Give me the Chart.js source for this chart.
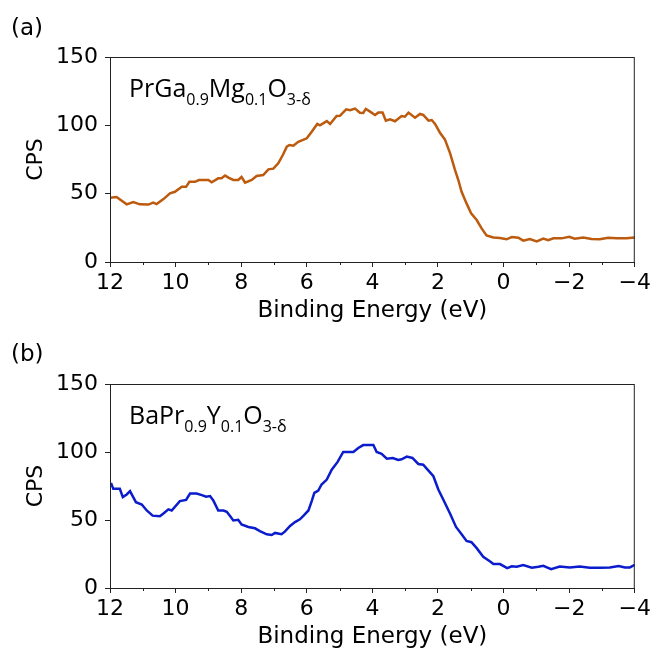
<!DOCTYPE html>
<html>
<head>
<meta charset="utf-8">
<script src="https://cdn.jsdelivr.net/npm/chart.js@4/dist/chart.umd.min.js"></script>
<style>
  html, body { margin: 0; padding: 0; background: #fff; }
  .fig { position: relative; width: 654px; height: 652px; }
  .fig canvas { position: absolute; left: 0; }
  #panelA { top: 0; }
  #panelB { top: 326px; }
</style>
</head>
<body>
<div class="fig">
  <canvas id="panelA" width="654" height="326"></canvas>
  <canvas id="panelB" width="654" height="326"></canvas>
</div>
<script>
// x ticks (binding energy, eV) and y ticks (CPS)
const xTicks = [12, 10, 8, 6, 4, 2, 0, -2, -4];
const xMinorTicks = [11, 9, 7, 5, 3, 1, -1, -3];
const yTicks = [0, 50, 100, 150];

// (a) PrGa0.9Mg0.1O3-δ
const energyA = [12.0, 11.8, 11.49, 11.29, 11.09, 10.83, 10.68, 10.58, 10.37, 10.17, 10.02, 9.81, 9.68, 9.58, 9.41, 9.29, 9.0, 8.9, 8.7, 8.6, 8.49, 8.39, 8.24, 8.09, 7.99, 7.88, 7.68, 7.53, 7.33, 7.17, 7.02, 6.87, 6.73, 6.61, 6.53, 6.41, 6.26, 6.0, 5.85, 5.68, 5.6, 5.39, 5.29, 5.09, 4.99, 4.8, 4.68, 4.53, 4.38, 4.28, 4.2, 4.07, 3.92, 3.82, 3.69, 3.59, 3.46, 3.31, 3.11, 3.01, 2.9, 2.7, 2.55, 2.45, 2.29, 2.19, 2.09, 1.94, 1.79, 1.63, 1.48, 1.38, 1.28, 1.13, 0.99, 0.82, 0.67, 0.52, 0.31, 0.11, -0.09, -0.25, -0.45, -0.6, -0.8, -1.01, -1.21, -1.36, -1.52, -1.77, -2.0, -2.17, -2.43, -2.68, -2.93, -3.19, -3.44, -3.75, -4.0];
const cpsA = [47, 47.5, 42.2, 43.9, 42.2, 42, 43.4, 42.4, 46, 50.2, 51.4, 55.1, 55, 58.7, 58.7, 60, 60, 58.3, 61.2, 61.2, 63.2, 61.7, 60, 60, 62.2, 58, 60, 62.9, 63.6, 67.8, 68.3, 72.2, 78.3, 84.4, 85.6, 85.1, 88, 90.5, 95.3, 101, 100, 103.1, 101, 106.8, 107, 111.7, 111, 112.2, 109.2, 109, 112, 110, 107.6, 109.3, 109.3, 103.4, 104.4, 103, 106.8, 106.3, 109.3, 105.6, 108.3, 107.6, 103.4, 103.9, 101, 94.6, 89.7, 79.5, 67.3, 60, 51.4, 42.9, 35.6, 30.7, 24.6, 19.5, 18, 17.6, 16.6, 18.3, 17.8, 15.6, 16.8, 15.1, 17.1, 16, 17.3, 17.3, 18.5, 17, 18, 16.8, 16.6, 17.8, 17.3, 17.3, 18];

// (b) BaPr0.9Y0.1O3-δ
const energyB = [11.97, 11.9, 11.7, 11.61, 11.49, 11.39, 11.21, 11.03, 10.88, 10.7, 10.48, 10.38, 10.22, 10.12, 9.87, 9.68, 9.56, 9.36, 9.2, 9.07, 8.95, 8.85, 8.7, 8.54, 8.44, 8.34, 8.24, 8.09, 7.99, 7.78, 7.58, 7.43, 7.22, 7.07, 6.97, 6.77, 6.67, 6.51, 6.36, 6.21, 6.09, 5.95, 5.85, 5.77, 5.65, 5.55, 5.39, 5.24, 5.06, 4.89, 4.58, 4.43, 4.28, 3.97, 3.87, 3.72, 3.56, 3.38, 3.21, 3.11, 2.95, 2.78, 2.6, 2.45, 2.29, 2.14, 1.99, 1.84, 1.63, 1.45, 1.28, 1.13, 0.98, 0.82, 0.62, 0.41, 0.31, 0.11, -0.11, -0.25, -0.4, -0.6, -0.86, -1.06, -1.21, -1.45, -1.71, -2.02, -2.32, -2.63, -2.93, -3.24, -3.51, -3.7, -3.85, -4.0];
const cpsB = [77.3, 72.9, 72.9, 66.8, 68.8, 71.2, 63.1, 61.4, 57, 53.2, 52.7, 54.6, 57.8, 57, 63.9, 64.8, 69.5, 69.5, 68.3, 67.1, 67.6, 64.4, 57, 57, 56, 52.9, 49.7, 50.2, 46.8, 44.9, 43.9, 41.9, 39.5, 39, 40.5, 39.5, 41.4, 45.6, 48.5, 50.5, 53.4, 57, 63.9, 70, 71.7, 76.1, 79.7, 87, 92.7, 100, 100, 102.9, 105.1, 105.1, 100, 98.6, 95.1, 95.6, 94.1, 94.6, 96.6, 95.6, 91.2, 90.7, 86.3, 82.2, 72.4, 65.1, 54.6, 44.9, 39.5, 34.6, 33.7, 29.3, 22.9, 19.5, 17.6, 17.6, 14.6, 16, 15.6, 16.8, 14.9, 15.6, 16.3, 13.9, 15.8, 15.1, 15.8, 14.9, 14.9, 15.1, 16.1, 15.1, 15.1, 17.1];

// formula pieces: [text, isSubscript]
const formulaA = [['PrGa', 0], ['0.9', 1], ['Mg', 0], ['0.1', 1], ['O', 0], ['3-\u03b4', 1]];
const formulaB = [['BaPr', 0], ['0.9', 1], ['Y', 0], ['0.1', 1], ['O', 0], ['3-\u03b4', 1]];

const AXIS = '#222';
const TICK_FONT = "'DejaVu Sans', sans-serif";

const fmt = v => v < 0 ? '\u2212' + Math.abs(v) : String(v);

// frame, minor ticks, panel tag and formula
const decor = {
  id: 'decor',
  afterDraw(chart, args, opts) {
    const { ctx, chartArea: a, scales } = chart;
    ctx.save();
    ctx.strokeStyle = AXIS;
    ctx.lineWidth = 1;
    ctx.strokeRect(a.left + 0.5, a.top + 0.5, a.right - a.left - 1, a.bottom - a.top);
    ctx.beginPath();
    xMinorTicks.forEach(v => {
      const x = Math.round(scales.x.getPixelForValue(v)) + 0.5;
      ctx.moveTo(x, a.bottom);
      ctx.lineTo(x, a.bottom + 3);
    });
    ctx.stroke();

    ctx.fillStyle = '#000';
    ctx.textBaseline = 'middle';
    ctx.font = "23px " + TICK_FONT;
    ctx.fillText(opts.tag, 11, opts.tagY);

    ctx.textBaseline = 'alphabetic';
    let x = a.left + 19;
    opts.formula.forEach(([t, sub]) => {
      ctx.font = (sub ? '16px' : '25px') + " 'Open Sans', sans-serif";
      ctx.fillText(t, x, opts.baseY + (sub ? 8 : 0));
      x += ctx.measureText(t).width;
    });
    ctx.restore();
  }
};

function makePanel(id, energy, cps, color, tag, formula, top) {
  return new Chart(document.getElementById(id), {
    type: 'line',
    data: {
      datasets: [{
        data: energy.map((e, i) => ({ x: e, y: cps[i] })),
        borderColor: color,
        borderWidth: 2.5,
        pointRadius: 0,
        tension: 0,
        fill: false
      }]
    },
    options: {
      responsive: false,
      animation: false,
      devicePixelRatio: 1,
      layout: { padding: { top: top, right: 19, left: 0, bottom: 0 } },
      plugins: {
        legend: { display: false },
        tooltip: { enabled: false },
        decor: { tag: tag, tagY: 29, formula: formula, baseY: top + 40 }
      },
      scales: {
        x: {
          type: 'linear',
          reverse: true,
          min: -4,
          max: 12,
          afterBuildTicks: s => { s.ticks = xTicks.map(v => ({ value: v })); },
          afterFit: s => { s.height = 64; },
          ticks: { callback: fmt, color: '#000', padding: 3, maxRotation: 0, font: { size: 22, family: TICK_FONT } },
          grid: { drawOnChartArea: false, tickLength: 5, color: AXIS },
          border: { color: AXIS },
          title: { display: true, text: 'Binding Energy (eV)', color: '#000', padding: { top: 0, bottom: 1 }, font: { size: 23, family: TICK_FONT } }
        },
        y: {
          min: 0,
          max: 150,
          afterBuildTicks: s => { s.ticks = yTicks.map(v => ({ value: v })); },
          afterFit: s => { s.width = 110; },
          ticks: { color: '#000', padding: 7, font: { size: 22, family: TICK_FONT } },
          grid: { drawOnChartArea: false, tickLength: 5, color: AXIS },
          border: { color: AXIS },
          title: { display: true, text: 'CPS', color: '#000', padding: { top: 23, bottom: 0 }, font: { size: 22, family: TICK_FONT } }
        }
      }
    },
    plugins: [decor]
  });
}

makePanel('panelA', energyA, cpsA, '#bc5a0e', '(a)', formulaA, 57);
makePanel('panelB', energyB, cpsB, '#0b1ccc', '(b)', formulaB, 58);
</script>
</body>
</html>
